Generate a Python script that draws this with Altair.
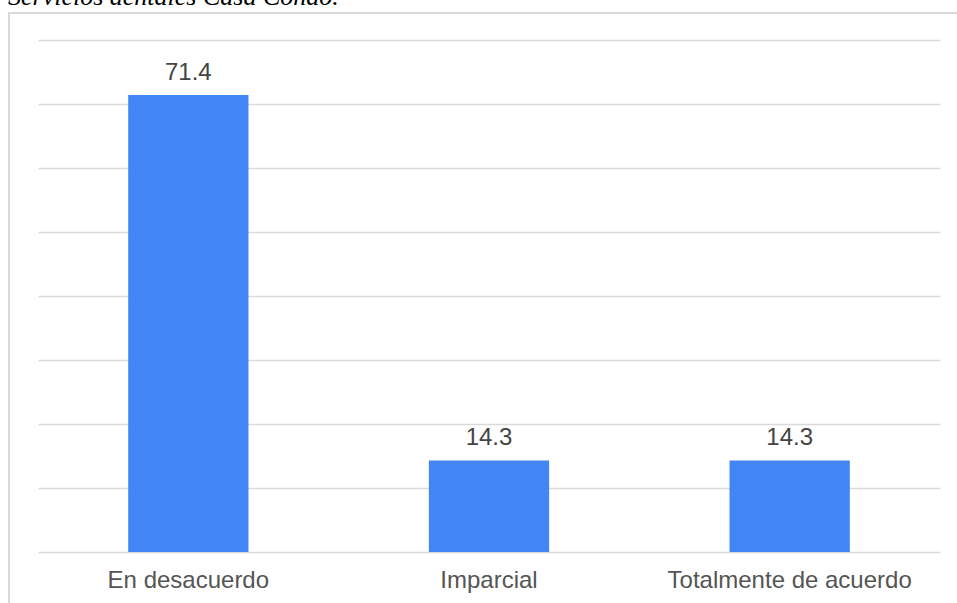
import altair as alt
import pandas as pd

categorias = ["En desacuerdo", "Imparcial", "Totalmente de acuerdo"]
porcentajes = [71.4, 14.3, 14.3]
leyenda_superior = "Servicios dentales Casa Condo."

df = pd.DataFrame({"categoria": categorias, "valor": porcentajes})

BLUE = "#4285F4"
GRID = "#d9d9d9"

x_enc = alt.X(
    "categoria:N",
    sort=categorias,
    title=None,
    scale=alt.Scale(paddingInner=0.6, paddingOuter=0.3),
    axis=alt.Axis(
        labelAngle=0,
        labelFont="Liberation Sans",
        labelFontSize=24,
        labelColor="#555555",
        labelPadding=16,
        labelLimit=0,
        ticks=False,
        domain=False,
        grid=False,
    ),
)
y_enc = alt.Y(
    "valor:Q",
    title=None,
    scale=alt.Scale(domain=[0, 80], nice=False),
    axis=alt.Axis(
        values=list(range(0, 81, 10)),
        labels=False,
        ticks=False,
        domain=False,
        grid=True,
        gridColor=GRID,
        gridWidth=1.5,
    ),
)

bars = alt.Chart(df).mark_bar(color=BLUE).encode(x=x_enc, y=y_enc)

labels = alt.Chart(df).mark_text(
    font="Liberation Sans",
    fontSize=24,
    color="#444444",
    baseline="alphabetic",
    align="center",
    dy=-15,
).encode(x=x_enc, y=y_enc, text=alt.Text("valor:Q", format=".1f"))

# light frame around the figure, open at the right and bottom edges
frame = alt.Chart(pd.DataFrame({"k": [0]})).mark_rect(
    fill=None, stroke=GRID, strokeWidth=2
).encode(
    x=alt.value(-29), x2=alt.value(960), y=alt.value(-27), y2=alt.value(600)
)

# caption sitting above the frame, partly outside the top edge
caption = alt.Chart(pd.DataFrame({"t": [leyenda_superior]})).mark_text(
    font="Liberation Serif",
    fontStyle="italic",
    fontSize=26,
    color="#000000",
    align="left",
    baseline="alphabetic",
).encode(x=alt.value(-30), y=alt.value(-35), text="t:N")

chart = (
    alt.layer(frame, bars, labels, caption)
    .properties(
        width=902,
        height=512,
        autosize=alt.AutoSizeParams(type="none"),
        padding={"left": 38, "top": 40, "right": 17, "bottom": 51},
    )
    .configure(background="white")
    .configure_view(strokeWidth=0)
)

chart.save("out.html", embed_options={"renderer": "svg", "actions": False})
